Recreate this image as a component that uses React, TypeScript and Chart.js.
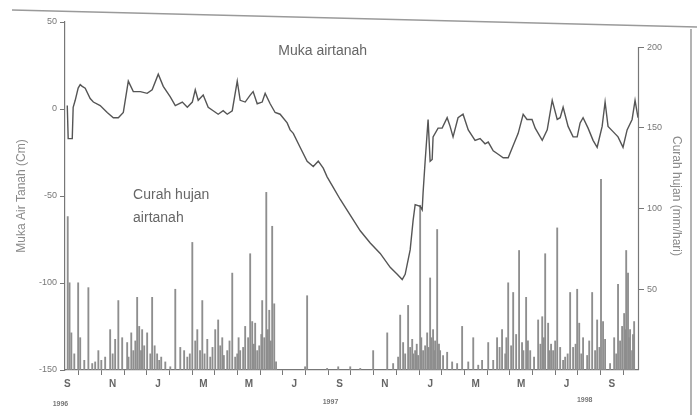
import React, { useEffect, useRef } from "react";
import { Chart, registerables } from "chart.js";

Chart.register(...registerables);

// Months since 1 Sep 1996 (x axis), tick labels
const monthLabels = ["S","O","N","D","J","F","M","A","M","J","J","A","S","O","N","D","J","F","M","A","M","J","J","A","S","O"];
const yearLabels = ["1996", "1997", "1998"];
const yearAt = [-0.3, 11.6, 22.8];

// Groundwater level (cm)
const gwMonth = [0,0.04,0.22,0.26,0.35,0.48,0.57,0.66,0.79,1.01,1.15,1.45,1.76,2.03,2.25,2.47,2.69,2.91,3.22,3.52,3.74,4.01,4.23,4.54,4.76,5.07,5.29,5.51,5.64,5.77,5.99,6.21,6.43,6.65,6.87,7.05,7.27,7.49,7.62,7.84,8.06,8.19,8.37,8.59,8.72,8.94,9.16,9.38,9.69,9.82,9.96,10.26,10.57,10.84,11.06,11.28,11.45,11.72,12.03,12.47,12.91,13.35,13.79,14.23,14.54,14.76,14.89,15.11,15.24,15.33,15.55,15.64,15.68,15.77,15.9,15.99,16.08,16.12,16.34,16.52,16.74,16.87,17.0,17.22,17.44,17.67,17.97,18.19,18.41,18.55,18.77,18.99,19.21,19.43,19.65,19.87,20.09,20.26,20.48,20.62,20.93,21.15,21.37,21.59,21.72,21.85,22.07,22.29,22.47,22.6,22.73,22.95,23.17,23.35,23.57,23.7,23.83,24.05,24.27,24.49,24.67,24.89,25.02,25.15];
const gwLevel = [2,-17,-17,1,5,12,14,13,12,6,4,2,-2,-5,-5,-2,16,10,10,9,11,20,13,7,2,4,1,4,11,5,8,1,-1,-3,-1,-3,-1,16,5,4,8,10,3,4,9,3,-2,-3,-8,-12,-14,-22,-30,-33,-30,-34,-39,-45,-52,-61,-70,-77,-83,-91,-95,-98,-95,-81,-64,-55,-56,-58,-48,-30,-6,-30,-29,-16,-11,-11,-5,-10,-16,-5,-3,-12,-18,-17,-20,-19,-24,-26,-28,-28,-21,-14,-3,-6,-6,-11,-18,-12,5,-6,-5,1,-10,-16,-16,-8,-5,-11,-18,-22,-10,4,-10,-13,-16,-22,-12,-6,5,-5];

// Rainfall (mm/day)
const rainMonth = [0.02,0.1,0.18,0.31,0.48,0.57,0.75,0.93,1.1,1.23,1.37,1.67,1.89,2.11,2.25,2.42,2.64,2.82,2.91,3.08,3.17,3.3,3.39,3.52,3.66,3.74,3.96,4.14,4.32,4.54,4.76,4.98,5.15,5.29,5.51,5.64,5.73,5.95,6.17,6.3,6.52,6.65,6.74,6.83,7.05,7.27,7.4,7.49,7.62,7.75,7.84,7.97,8.06,8.15,8.28,8.37,8.46,8.59,8.68,8.77,8.9,9.03,9.12,9.2,10.48,10.57,11.45,11.94,12.47,12.91,13.48,14.1,14.36,14.58,14.67,14.8,14.89,15.02,15.11,15.2,15.33,15.46,15.55,15.68,15.77,15.86,15.99,16.12,16.21,16.3,16.43,16.56,16.74,16.96,17.18,17.4,17.67,17.89,18.11,18.28,18.55,18.77,18.94,19.16,19.3,19.43,19.56,19.65,19.78,19.91,20.04,20.22,20.4,20.57,20.75,20.93,21.06,21.19,21.32,21.41,21.59,21.72,21.85,21.94,22.16,22.29,22.47,22.56,22.73,22.91,23.13,23.26,23.35,23.52,23.61,23.7,23.92,24.19,24.27,24.36,24.45,24.54,24.63,24.71,24.8,24.89,24.98,
  1.5,2.0,2.7,3.0,3.25,3.85,4.05,5.4,5.85,6.05,6.4,6.9,7.15,7.55,8.22,8.55,8.84,8.97,15.25,15.4,15.6,15.92,16.05,16.17,16.38,19.05,19.35,20.1,20.3,20.85,21.0,21.25,21.5,22.05,22.4,22.65,23.0,23.45,24.1,24.6,24.75,24.93];
const rainMm = [95,54,23,10,54,20,6,51,4,5,12,8,25,19,43,20,17,23,12,45,27,25,15,23,10,45,10,8,5,2,50,14,12,8,79,18,25,43,19,8,25,31,15,20,12,60,8,10,12,14,27,20,72,30,29,12,15,43,20,110,37,89,41,5,2,46,1,2,2,1,12,23,4,8,34,17,10,40,14,19,12,9,102,12,15,23,57,25,18,87,12,9,11,5,4,27,5,20,3,6,17,6,20,25,10,54,15,48,22,74,17,45,12,8,31,33,72,29,16,12,88,14,6,8,48,14,50,29,20,9,48,12,31,118,30,19,4,10,53,18,27,35,74,60,25,12,30,
  6,10,8,18,12,15,6,10,12,10,14,9,18,20,16,22,25,18,10,16,20,14,20,12,16,14,20,12,18,16,20,12,18,10,16,10,18,14,20,25,20,22];

const leftTicks = [-150, -100, -50, 0, 50];
const rightTicks = [50, 100, 150, 200];

const notes = [
  { text: "Muka airtanah", x: 9.3, y: 33, axis: "y" },
  { text: "Curah hujan", x: 2.9, y: 108, axis: "y1" },
  { text: "airtanah", x: 2.9, y: 94, axis: "y1" },
];

const FONT = "'Liberation Sans', Arial, sans-serif";

export default function App() {
  const ref = useRef<HTMLCanvasElement>(null);
  useEffect(() => {
    const canvas = ref.current!;
    const rainPoints = rainMonth
      .map((m, i) => ({ x: m, y: rainMm[i] }))
      .sort((a, b) => a.x - b.x);
    const decor = {
      id: "decor",
      beforeDraw(chart: any) {
        const ctx = chart.ctx;
        ctx.save();
        ctx.fillStyle = "#ffffff";
        ctx.fillRect(0, 0, chart.width, chart.height);
        ctx.strokeStyle = "#9a9a9a";
        ctx.lineWidth = 1.5;
        ctx.beginPath();
        ctx.moveTo(12, 10);
        ctx.lineTo(chart.width, 27);
        ctx.moveTo(691, 29);
        ctx.lineTo(691, chart.height);
        ctx.stroke();
        ctx.restore();
      },
      afterDraw(chart: any) {
        const ctx = chart.ctx;
        const xs = chart.scales.x;
        const y1 = chart.scales.y1;
        ctx.save();
        ctx.strokeStyle = "#777";
        ctx.lineWidth = 1.2;
        ctx.beginPath();
        ctx.moveTo(y1.left + 0.5, y1.getPixelForValue(200));
        ctx.lineTo(y1.left + 0.5, y1.getPixelForValue(0));
        ctx.stroke();
        ctx.fillStyle = "#666";
        ctx.font = "14px " + FONT;
        ctx.textBaseline = "middle";
        ctx.textAlign = "left";
        notes.forEach((n) => {
          const sc = chart.scales[n.axis];
          ctx.fillText(n.text, xs.getPixelForValue(n.x), sc.getPixelForValue(n.y));
        });
        ctx.font = "bold 7px " + FONT;
        ctx.textAlign = "center";
        ctx.fillStyle = "#777";
        yearLabels.forEach((t, i) => {
          ctx.fillText(t, xs.getPixelForValue(yearAt[i]), 404 - i * 2);
        });
        ctx.restore();
      },
    };
    const chart = new Chart(canvas, {
      data: {
        datasets: [
          {
            type: "line",
            label: "Muka airtanah",
            data: gwMonth.map((m, i) => ({ x: m, y: gwLevel[i] })),
            yAxisID: "y",
            borderColor: "#555555",
            borderWidth: 1.4,
            pointRadius: 0,
            tension: 0,
            order: 1,
          },
          {
            type: "bar",
            label: "Curah hujan",
            data: rainPoints,
            yAxisID: "y1",
            backgroundColor: "#8e8e8e",
            barThickness: 1.2,
            order: 2,
          },
        ],
      } as any,
      options: {
        responsive: false,
        animation: false,
        layout: { padding: { top: 22, left: 0, right: 0, bottom: 0 } },
        plugins: { legend: { display: false }, tooltip: { enabled: false } },
        scales: {
          x: {
            type: "linear",
            position: "bottom",
            min: -0.1,
            max: 25.15,
            offset: false,
            afterBuildTicks: (s: any) => {
              s.ticks = monthLabels.map((_, i) => ({ value: i }));
            },
            afterFit: (s: any) => {
              s.height = 45;
            },
            ticks: {
              autoSkip: false,
              maxRotation: 0,
              color: "#666",
              font: { size: 10, weight: "bold", family: FONT },
              padding: 3,
              callback: (v: any) => (v % 2 === 0 ? monthLabels[v] : ""),
            },
            grid: { drawOnChartArea: false, tickLength: 5, color: "#777" },
            border: { color: "#777", width: 1.2 },
          },
          y: {
            type: "linear",
            position: "left",
            min: -150,
            max: 50,
            afterBuildTicks: (s: any) => {
              s.ticks = leftTicks.map((v) => ({ value: v }));
            },
            afterFit: (s: any) => {
              s.width = 65;
            },
            ticks: { color: "#777", font: { size: 9, family: FONT }, padding: 3 },
            grid: { drawOnChartArea: false, tickLength: 5, color: "#777" },
            border: { color: "#777", width: 1.2 },
            title: {
              display: true,
              text: "Muka Air Tanah (Cm)",
              color: "#8a8a8a",
              font: { size: 12, family: FONT },
              padding: { top: 14, bottom: 0 },
            },
          },
          y1: {
            type: "linear",
            position: "right",
            min: 0,
            max: 215.5,
            afterBuildTicks: (s: any) => {
              s.ticks = rightTicks.map((v) => ({ value: v }));
            },
            afterFit: (s: any) => {
              s.width = 59;
            },
            ticks: { color: "#777", font: { size: 9, family: FONT }, padding: 3 },
            grid: { drawOnChartArea: false, tickLength: 6, color: "#777" },
            border: { display: false },
            title: {
              display: true,
              text: "Curah hujan (mm/hari)",
              color: "#8a8a8a",
              font: { size: 12, family: FONT },
              padding: { top: 13, bottom: 0 },
            },
          },
        },
      } as any,
      plugins: [decor],
    });
    return () => chart.destroy();
  }, []);
  return (
    <div style={{ position: "fixed", left: 0, top: 0, width: 697, height: 415, background: "#fff" }}>
      <canvas ref={ref} width={697} height={415} />
    </div>
  );
}
